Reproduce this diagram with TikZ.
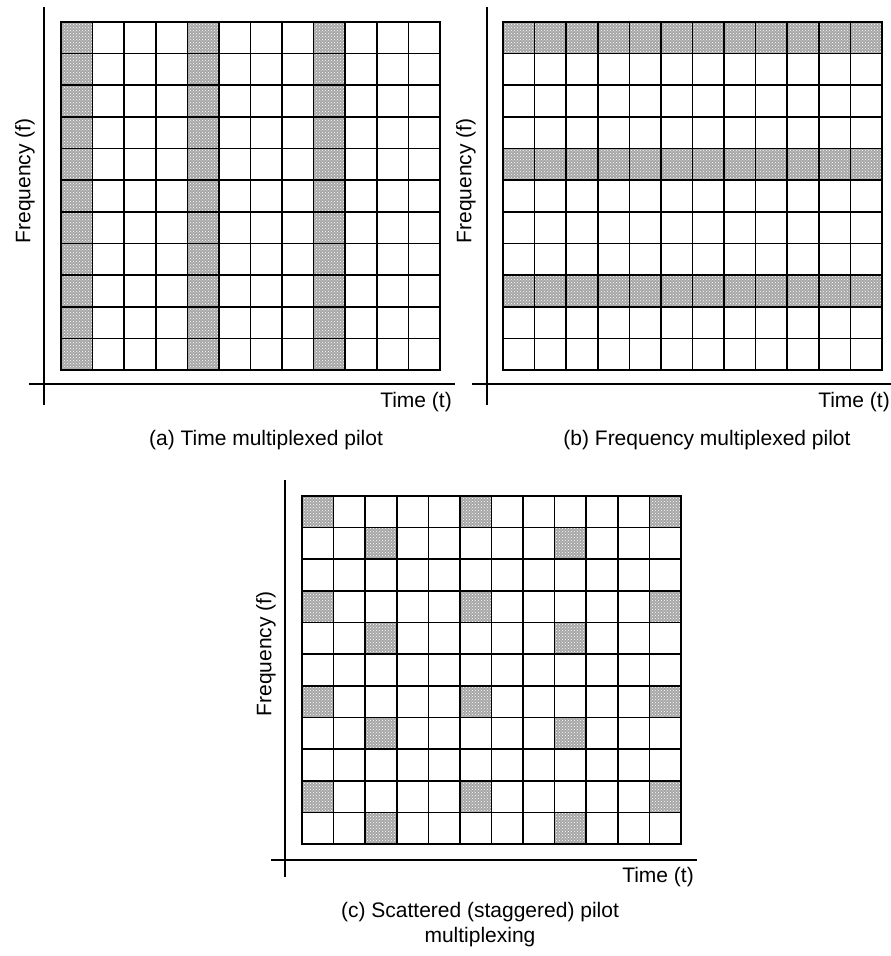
\documentclass[tikz,border=0pt]{standalone}
\usepackage{fontspec}
\setmainfont{Liberation Sans}
\usetikzlibrary{patterns}
\newcommand\pilotcell[4]{% x0 y0 col row
  \fill[pilotfill] ({#1+#3*\cw},{#2+#4*\ch}) rectangle ++(\cw,\ch);}
\newcommand\plaingrid[2]{% x0 y0
  \foreach \i in {0,...,12} \draw[gridline] ({#1+\i*\cw},#2) -- ++(0,11*\ch);
  \foreach \j in {0,...,11} \draw[gridline] (#1,{#2+\j*\ch}) -- ++(12*\cw,0);}
\begin{document}
\begin{tikzpicture}[x=1pt,y=-1pt,
  gridline/.style={line width=1.6pt, line cap=rect},
  axisline/.style={line width=1.6pt},
  lbl/.style={font=\fontsize{21}{25}\selectfont, inner sep=0pt},
  pilotfill/.style={fill=gray!70, postaction={pattern=crosshatch dots, pattern color=white}}]
\useasboundingbox (0,0) rectangle (891,956);
\pgfmathsetmacro\cw{379/12}
\pgfmathsetmacro\ch{348/11}
% ---------- (a) time multiplexed
\foreach \c in {0,4,8} \foreach \r in {0,...,10} \pilotcell{61}{22}{\c}{\r};
\plaingrid{61}{22}
\coordinate (a-vt) at (44,7); \coordinate (a-vb) at (44,405);
\coordinate (a-hl) at (29,384); \coordinate (a-hr) at (455,384);
\draw[axisline] (a-vt) -- (a-vb);
\draw[axisline] (a-hl) -- (a-hr);
\node[lbl, rotate=90] (a-f) at (25,181) {Frequency (f)};
\node[lbl, anchor=east] (a-t) at (452,402) {Time (t)};
\node[lbl] (a-cap) at (266,440) {(a) Time multiplexed pilot};
% ---------- (b) frequency multiplexed
\foreach \r in {0,4,8} \foreach \c in {0,...,11} \pilotcell{503}{22}{\c}{\r};
\plaingrid{503}{22}
\coordinate (b-vt) at (487,7); \coordinate (b-vb) at (487,405);
\coordinate (b-hl) at (472,384); \coordinate (b-hr) at (891,384);
\draw[axisline] (b-vt) -- (b-vb);
\draw[axisline] (b-hl) -- (b-hr);
\node[lbl, rotate=90] (b-f) at (466,181) {Frequency (f)};
\node[lbl, anchor=east] (b-t) at (890,402) {Time (t)};
\node[lbl] (b-cap) at (707,440) {(b) Frequency multiplexed pilot};
% ---------- (c) scattered
\foreach \r in {0,3,6,9} \foreach \c in {0,5,11} \pilotcell{302}{496}{\c}{\r};
\foreach \r in {1,4,7,10} \foreach \c in {2,8} \pilotcell{302}{496}{\c}{\r};
\plaingrid{302}{496}
\coordinate (c-vt) at (285,480); \coordinate (c-vb) at (285,877);
\coordinate (c-hl) at (271,860); \coordinate (c-hr) at (697,860);
\draw[axisline] (c-vt) -- (c-vb);
\draw[axisline] (c-hl) -- (c-hr);
\node[lbl, rotate=90] (c-f) at (266,654) {Frequency (f)};
\node[lbl, anchor=east] (c-t) at (694,877) {Time (t)};
\node[lbl, align=center] (c-cap) at (480,925) {(c) Scattered (staggered) pilot\\multiplexing};
\end{tikzpicture}
\end{document}
